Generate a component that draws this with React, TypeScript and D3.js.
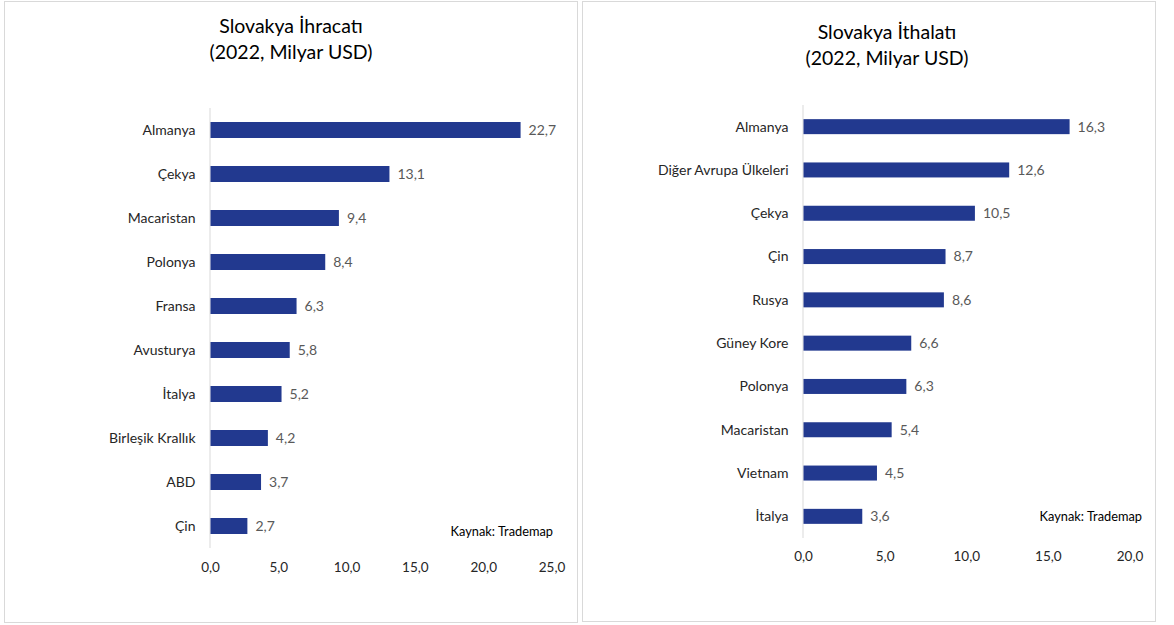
import React from "react";
import * as d3 from "d3";

const exportCountries = ["Almanya", "Çekya", "Macaristan", "Polonya", "Fransa", "Avusturya", "İtalya", "Birleşik Krallık", "ABD", "Çin"];
const exportValues = [22.7, 13.1, 9.4, 8.4, 6.3, 5.8, 5.2, 4.2, 3.7, 2.7];
const exportTicks = [0, 5, 10, 15, 20, 25];

const importCountries = ["Almanya", "Diğer Avrupa Ülkeleri", "Çekya", "Çin", "Rusya", "Güney Kore", "Polonya", "Macaristan", "Vietnam", "İtalya"];
const importValues = [16.3, 12.6, 10.5, 8.7, 8.6, 6.6, 6.3, 5.4, 4.5, 3.6];
const importTicks = [0, 5, 10, 15, 20];

const exportTitle = ["Slovakya İhracatı", "(2022, Milyar USD)"];
const importTitle = ["Slovakya İthalatı", "(2022, Milyar USD)"];
const sourceText = "Kaynak: Trademap";

const FONT = "Lato, 'Open Sans', sans-serif";
const BAR = "#22398F";
const fmt = (v: number) => v.toFixed(1).replace(".", ",");

type PanelProps = {
  box: [number, number, number, number];
  title: string[];
  titleX: number;
  titleY: [number, number];
  cats: string[];
  vals: number[];
  ticks: number[];
  xRange: [number, number];
  yRange: [number, number];
  tickY: number;
  sourcePos: [number, number];
  barH: number;
};

function Panel(p: PanelProps) {
  const x = d3.scaleLinear().domain([0, p.ticks[p.ticks.length - 1]]).range(p.xRange);
  const y = d3.scaleBand<string>().domain(p.cats).range(p.yRange);
  const bw = y.bandwidth();
  return (
    <g>
      <rect x={p.box[0] + 0.5} y={p.box[1] + 0.5} width={p.box[2]} height={p.box[3]} fill="#fff" stroke="#d9d9d9" strokeWidth={1} />
      <text x={p.titleX} y={p.titleY[0]} textAnchor="middle" fontFamily={FONT} fontSize={19.5} fill="#000">{p.title[0]}</text>
      <text x={p.titleX} y={p.titleY[1]} textAnchor="middle" fontFamily={FONT} fontSize={19.5} fill="#000">{p.title[1]}</text>
      <line x1={x(0) - 0.5} x2={x(0) - 0.5} y1={p.yRange[0]} y2={p.yRange[1]} stroke="#d9d9d9" strokeWidth={1} />
      {p.cats.map((c, i) => {
        const cy = (y(c) as number) + bw / 2;
        return (
          <g key={c}>
            <rect x={x(0)} y={cy - p.barH / 2} width={x(p.vals[i]) - x(0)} height={p.barH} fill={BAR} />
            <text x={x(0) - 15} y={cy} dy="0.35em" textAnchor="end" fontFamily={FONT} fontSize={14} fill="#262626">{c}</text>
            <text x={x(p.vals[i]) + 8} y={cy} dy="0.35em" textAnchor="start" fontFamily={FONT} fontSize={14} fill="#595959">{fmt(p.vals[i])}</text>
          </g>
        );
      })}
      {p.ticks.map((t) => (
        <text key={t} x={x(t)} y={p.tickY} dy="0.35em" textAnchor="middle" fontFamily={FONT} fontSize={13.5} fill="#262626">{fmt(t)}</text>
      ))}
      <text x={p.sourcePos[0]} y={p.sourcePos[1]} dy="0.35em" textAnchor="end" fontFamily={FONT} fontSize={12.8} fill="#000">{sourceText}</text>
    </g>
  );
}

export default function App() {
  return (
    <svg width={1174} height={625} style={{ position: "absolute", left: 0, top: 0 }} xmlns="http://www.w3.org/2000/svg">
      <rect x={0} y={0} width={1174} height={625} fill="#fff" />
      <Panel
        box={[4, 1, 573, 621]}
        title={exportTitle}
        titleX={291}
        titleY={[33, 59]}
        cats={exportCountries}
        vals={exportValues}
        ticks={exportTicks}
        xRange={[210.5, 552]}
        yRange={[108, 548]}
        tickY={567}
        sourcePos={[553, 532]}
        barH={16}
      />
      <Panel
        box={[582, 1, 573, 620]}
        title={importTitle}
        titleX={887}
        titleY={[39, 65]}
        cats={importCountries}
        vals={importValues}
        ticks={importTicks}
        xRange={[803.5, 1130]}
        yRange={[105, 538]}
        tickY={556}
        sourcePos={[1142, 517]}
        barH={15}
      />
    </svg>
  );
}
